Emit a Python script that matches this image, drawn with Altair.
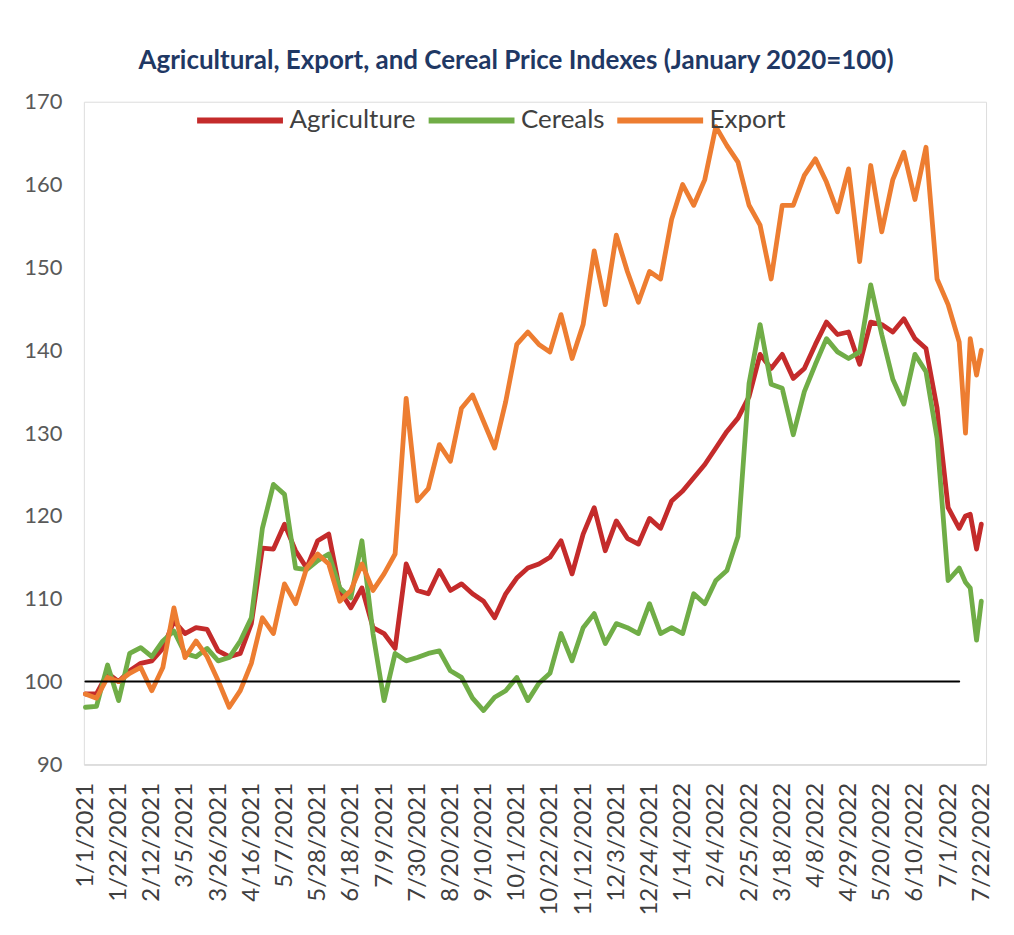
import altair as alt
import pandas as pd

# ---- data ----
weekly = [d.strftime("%Y-%m-%d") for d in pd.date_range("2021-01-01", "2022-07-22", freq="7D")]
extra_dates = ["2022-07-12", "2022-07-19"]
dates = sorted(weekly + extra_dates)

agriculture = [
    98.5, 98.5, 101, 100, 101.3, 102.2, 102.5, 104, 107.3, 105.8,
    106.5, 106.3, 103.7, 103, 103.4, 107, 116.1, 116, 119, 115.8,
    113.7, 117, 117.8, 111, 108.9, 111.3, 106.5, 105.8, 104, 114.2,
    111, 110.6, 113.4, 111, 111.8, 110.6, 109.7, 107.7, 110.6, 112.5,
    113.7, 114.2, 115, 117, 113, 117.8, 121, 115.8, 119.4, 117.3,
    116.6, 119.7, 118.5, 121.8, 123, 124.6, 126.2, 128.2, 130.2, 131.8,
    134.4, 139.5, 137.8, 139.5, 136.6, 137.8, 140.7, 143.4, 141.9, 142.2,
    138.3, 143.4, 143.1, 142.2, 143.8, 141.4, 140.2, 133, 121, 118.5,
    120, 120.2, 116, 119,
]
cereals = [
    96.9, 97, 102, 97.7, 103.4, 104.1, 103, 104.9, 106.1, 103.4,
    103, 104, 102.5, 102.9, 104.9, 107.7, 118.5, 123.8, 122.6, 113.7,
    113.5, 114.6, 115.4, 111.3, 110.1, 117, 105.8, 97.7, 103.4, 102.5,
    102.9, 103.4, 103.7, 101.3, 100.5, 98, 96.5, 98.1, 98.9, 100.5,
    97.7, 99.8, 101, 105.8, 102.5, 106.5, 108.2, 104.6, 107, 106.5,
    105.8, 109.4, 105.8, 106.5, 105.8, 110.6, 109.4, 112.2, 113.4, 117.5,
    136, 143.1, 135.9, 135.4, 129.8, 135, 138.3, 141.4, 139.8, 139,
    139.8, 147.9, 141.9, 136.5, 133.5, 139.5, 137.4, 129.4, 112.2, 113.7,
    112, 111.3, 105, 109.7,
]
export = [
    98.5, 98, 100.5, 100, 101, 101.7, 98.9, 101.7, 108.9, 102.9,
    104.9, 103, 100.1, 96.9, 98.9, 102.2, 107.7, 105.8, 111.8, 109.4,
    113.7, 115.4, 114.2, 109.7, 111, 114.2, 111, 113, 115.4, 134.2,
    121.8, 123.3, 128.6, 126.6, 133, 134.6, 131.4, 128.2, 133.8, 140.7,
    142.2, 140.7, 139.8, 144.3, 139, 143.1, 152, 145.5, 153.9, 149.5,
    145.8, 149.5, 148.6, 155.8, 160, 157.5, 160.6, 167, 164.7, 162.7,
    157.5, 155.1, 148.6, 157.5, 157.5, 161.1, 163.1, 160.3, 156.7, 161.9,
    150.7, 162.3, 154.3, 160.6, 163.9, 158.2, 164.5, 148.6, 145.5, 141,
    130, 141.4, 137, 140,
]
series_names = ["Agriculture", "Cereals", "Export"]
series_colors = ["#C42B2B", "#70AD47", "#ED7D31"]

tick_dates = [d.strftime("%Y-%m-%d") for d in pd.date_range("2021-01-01", "2022-07-22", freq="21D")]
y_ticks = [90, 100, 110, 120, 130, 140, 150, 160, 170]

# reference line at 100 (January 2020 level)
base_name = "Base"
base_dates = ["2021-01-01", "2022-07-08"]
base_values = [100, 100]

# ---- table ----
rows = []
for name, vals in zip(series_names, [agriculture, cereals, export]):
    for d, v in zip(dates, vals):
        rows.append({"date": d, "value": v, "series": name})
for d, v in zip(base_dates, base_values):
    rows.append({"date": d, "value": v, "series": base_name})
df = pd.DataFrame(rows)

FONT = "Lato"

x_axis = alt.Axis(
    values=tick_dates,
    format="%-m/%-d/%Y",
    labelAngle=-90,
    labelAlign="right",
    labelBaseline="middle",
    labelPadding=18,
    labelFontSize=24,
    labelFont=FONT,
    labelColor="#404040",
    ticks=False,
    grid=False,
    domainColor="#D9D9D9",
    domainWidth=1.5,
    labelOverlap=False,
    labelSeparation=0,
    labelBound=False,
)
y_axis = alt.Axis(
    values=y_ticks,
    labelFontSize=22,
    labelFont=FONT,
    labelColor="#595959",
    labelPadding=22,
    ticks=False,
    domain=False,
    grid=False,
)

chart = alt.Chart(df).mark_line(strokeJoin="round", strokeCap="round").encode(
    x=alt.X("date:T", scale=alt.Scale(domain=["2020-12-31", "2022-07-25"]), title=None, axis=x_axis),
    y=alt.Y("value:Q", scale=alt.Scale(domain=[90, 170], nice=False, zero=False), title=None, axis=y_axis),
    color=alt.Color(
        "series:N",
        scale=alt.Scale(domain=series_names + [base_name], range=series_colors + ["#000000"]),
        title=None,
        legend=alt.Legend(
            values=series_names,
            orient="none",
            legendX=110,
            legendY=-28,
            direction="horizontal",
            symbolType="stroke",
            symbolSize=7400,
            symbolStrokeWidth=6,
            labelFontSize=26,
            labelFont=FONT,
            labelColor="#404040",
            labelOffset=3,
            columnPadding=0,
        ),
    ),
    strokeWidth=alt.condition(alt.datum.series == base_name, alt.value(2), alt.value(4.8)),
).properties(
    width=904,
    height=664,
    padding={"left": 76, "top": 93, "right": 20, "bottom": 160},
    autosize=alt.AutoSizeParams(type="none"),
    title=alt.TitleParams(
        "Agricultural, Export, and Cereal Price Indexes (January 2020=100)",
        font=FONT,
        fontSize=26,
        fontWeight="bold",
        color="#1F3864",
        anchor="middle",
        dx=-19,
        offset=0,
    ),
).configure_view(stroke="transparent", strokeWidth=0).configure(background="white")

chart.save("out.html", embed_options={"renderer": "svg", "actions": False})
